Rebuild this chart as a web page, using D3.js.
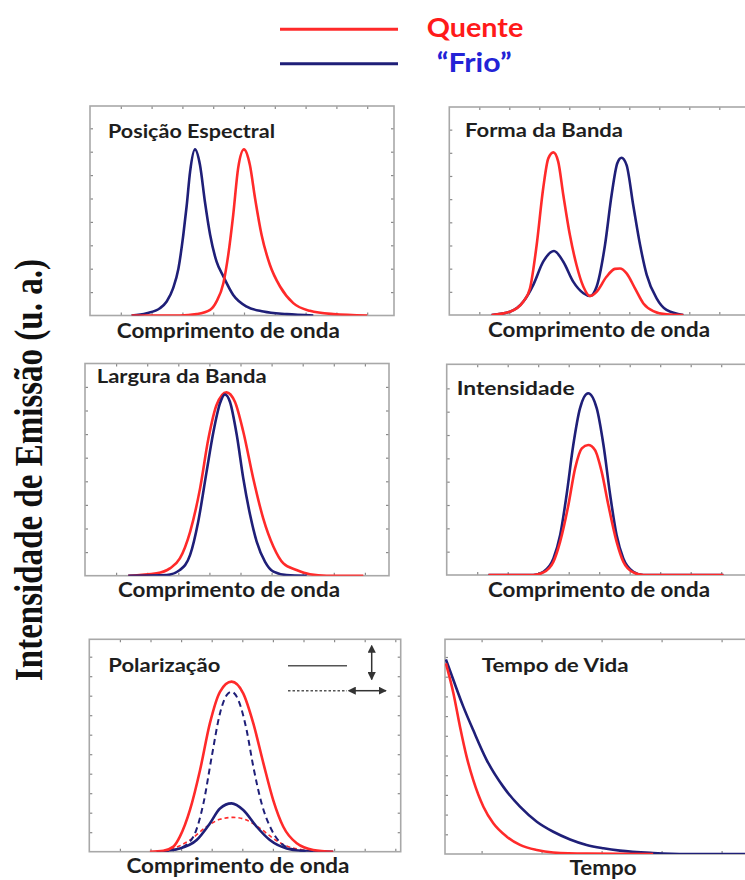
<!DOCTYPE html>
<html><head><meta charset="utf-8">
<script src="https://cdn.jsdelivr.net/npm/d3@7"></script>
<style>body{margin:0;background:#fff;} svg{display:block;}</style>
</head><body>
<svg id="c" width="745" height="880"></svg>
<script>
// ---------------- DATA (panel units) ----------------
const legendLabels = ["Quente", "\u201CFrio\u201D"];
const yAxisTitle = "Intensidade de Emissão (u. a.)";
const panelTitles = ["Posição Espectral", "Forma da Banda", "Largura da Banda", "Intensidade", "Polarização", "Tempo de Vida"];
const axisTitles = ["Comprimento de onda", "Comprimento de onda", "Comprimento de onda", "Comprimento de onda", "Comprimento de onda", "Tempo"];

// Posição Espectral
const posicaoFrio = [[1.35,0],[1.84,0.1],[2.27,0.31],[2.49,0.6],[2.7,1.17],[2.87,2.0],[3.03,3.45],[3.14,4.7],[3.25,6.15],[3.41,7.1],[3.57,6.44],[3.73,4.87],[3.9,3.45],[4.11,2.3],[4.33,1.67],[4.65,0.88],[5.09,0.38],[5.63,0.17],[6.39,0.06],[7.25,0]];
const posicaoQuente = [[1.35,0],[2.92,0],[3.46,0.06],[3.9,0.24],[4.11,0.6],[4.33,1.38],[4.49,2.6],[4.65,4.3],[4.81,6.3],[5.0,7.1],[5.19,6.44],[5.36,5.0],[5.57,3.45],[5.84,2.17],[6.17,1.24],[6.6,0.53],[7.14,0.2],[7.9,0.06],[9.0,0]];
// Forma da Banda
const formaQuente = [[1.41,0],[2.02,0.14],[2.47,0.58],[2.69,1.15],[2.91,3.0],[3.13,5.47],[3.3,6.76],[3.47,7.02],[3.63,6.62],[3.8,5.18],[4.02,3.45],[4.24,2.16],[4.47,1.22],[4.69,0.82],[4.91,1.0],[5.24,1.65],[5.52,1.99],[5.69,2.01],[5.91,1.8],[6.19,1.15],[6.47,0.5],[6.8,0.17],[7.24,0.03],[7.8,0]];
const formaFrio = [[1.41,0],[2.02,0.14],[2.47,0.58],[2.8,1.3],[3.13,2.3],[3.49,2.76],[3.8,2.3],[4.13,1.44],[4.47,0.94],[4.69,0.82],[4.91,1.22],[5.19,3.02],[5.41,5.18],[5.6,6.55],[5.74,6.79],[5.91,6.47],[6.13,4.75],[6.36,3.02],[6.58,1.73],[6.91,0.72],[7.24,0.22],[7.8,0]];
// Largura da Banda
const larguraQuente = [[1.39,0],[2.3,0.1],[2.73,0.31],[3.05,0.73],[3.38,1.86],[3.7,3.7],[3.97,5.82],[4.23,7.23],[4.55,7.77],[4.82,7.37],[5.09,6.1],[5.41,4.12],[5.73,2.43],[6.06,1.23],[6.38,0.52],[6.8,0.24],[7.23,0.06],[7.77,0],[8.95,0]];
const larguraFrio = [[1.39,0],[2.63,0.03],[3.05,0.24],[3.38,0.88],[3.64,2.29],[3.91,4.41],[4.13,6.1],[4.34,7.3],[4.5,7.68],[4.66,7.37],[4.88,5.96],[5.09,4.12],[5.31,2.57],[5.52,1.44],[5.79,0.59],[6.06,0.17],[6.48,0.03],[7.13,0]];
// Intensidade
const intensidadeFrio = [[1.37,0],[2.84,0],[3.17,0.14],[3.5,0.71],[3.72,1.71],[3.93,3.43],[4.15,5.57],[4.37,7.14],[4.64,7.79],[4.92,7.14],[5.14,5.57],[5.36,3.43],[5.57,1.71],[5.79,0.71],[6.12,0.14],[6.45,0],[9.07,0]];
const intensidadeQuente = [[1.37,0],[2.84,0],[3.17,0.11],[3.5,0.57],[3.72,1.43],[3.99,3.0],[4.21,4.57],[4.43,5.43],[4.64,5.57],[4.86,5.36],[5.08,4.43],[5.3,3.0],[5.57,1.43],[5.79,0.57],[6.12,0.11],[6.45,0],[9.07,0]];
// Polarização (solid = vertical, dashed = horizontal)
const polQuenteSolid = [[1.98,0],[2.42,0.05],[2.75,0.26],[2.96,0.77],[3.29,2.14],[3.62,4.19],[3.94,6.58],[4.27,8.2],[4.65,8.72],[5.03,8.12],[5.36,6.58],[5.69,4.53],[6.01,2.65],[6.34,1.28],[6.78,0.43],[7.32,0.09],[7.97,0]];
const polFrioDashed = [[2.4,0],[2.96,0.17],[3.4,0.77],[3.73,2.48],[4.0,4.87],[4.27,7.09],[4.49,8.03],[4.65,8.2],[4.87,7.78],[5.14,6.24],[5.36,4.36],[5.63,2.48],[5.96,1.11],[6.34,0.34],[6.78,0.09],[7.32,0]];
const polFrioSolid = [[2.2,0],[2.96,0.17],[3.51,0.6],[3.94,1.45],[4.27,2.22],[4.65,2.48],[5.03,2.14],[5.47,1.28],[5.9,0.6],[6.45,0.17],[7.1,0.03],[7.97,0]];
const polQuenteDashed = [[2.2,0],[2.75,0.17],[3.29,0.6],[3.83,1.28],[4.27,1.66],[4.71,1.76],[5.14,1.62],[5.58,1.2],[6.01,0.68],[6.45,0.29],[6.99,0.09],[7.54,0]];
// Tempo de Vida
const vidaFrio = [[0.03,9.88],[0.28,8.83],[0.61,7.48],[0.94,6.29],[1.39,4.77],[1.94,3.42],[2.5,2.4],[3.06,1.64],[3.61,1.13],[4.17,0.74],[4.72,0.46],[5.28,0.29],[5.83,0.17],[6.94,0.05],[8.06,0],[10.0,0]];
const vidaQuente = [[0.03,9.68],[0.28,8.16],[0.5,6.46],[0.72,4.94],[0.94,3.76],[1.28,2.4],[1.61,1.56],[2.06,0.88],[2.5,0.46],[3.06,0.2],[3.61,0.08],[4.72,0.02],[6.94,0]];

// ---------------- LAYOUT ----------------
const RED = "#ff2a2a", BLUE = "#1f1f78";
const panels = [
  {frame:[90,394,106,315.5], xu:30.8, yu:23.4, xt:[1,1], title:[108,137.7,167], label:[228.3,337.7,223],
   series:[{d:posicaoFrio,c:BLUE},{d:posicaoQuente,c:RED}]},
  {frame:[449.3,748,107,315], xu:30, yu:23.17, xt:[1,1], title:[465,136.7,158], label:[599,336.7,222],
   series:[{d:formaFrio,c:BLUE},{d:formaQuente,c:RED}]},
  {frame:[85,389,363.5,575.7], xu:31.1, yu:23.6, xt:[1,1], title:[96.7,383.3,170], label:[229,596.7,222],
   series:[{d:larguraQuente,c:RED},{d:larguraFrio,c:BLUE}]},
  {frame:[446.7,748,364.3,575], xu:30.5, yu:23.33, xt:[1,1], title:[456.7,395,118], label:[599,596.7,222],
   series:[{d:intensidadeFrio,c:BLUE},{d:intensidadeQuente,c:RED}]},
  {frame:[89.3,400.7,639.3,851.7], xu:30.6, yu:19.5, xt:[1,1], title:[108.3,671.7,112], label:[238,873,223],
   series:[{d:polQuenteDashed,c:RED,dash:"4,3",w:1.6},{d:polFrioDashed,c:BLUE,dash:"6,4",w:2},{d:polFrioSolid,c:BLUE},{d:polQuenteSolid,c:RED}]},
  {frame:[445,748,639.3,854], xu:30, yu:19.7, xt:[1.22,2], title:[481.7,671.7,147], label:[603,875,67],
   series:[{d:vidaFrio,c:BLUE},{d:vidaQuente,c:RED}]}
];

const svg = d3.select("#c");
const defs = svg.append("defs");
["s","e"].forEach(k=>{
  defs.append("marker").attr("id","arr"+k).attr("viewBox","0 0 10 10").attr("refX",k==="e"?9:1).attr("refY",5)
    .attr("markerWidth",5.5).attr("markerHeight",5.5).attr("orient","auto-start-reverse")
    .append("path").attr("d","M0,0L10,5L0,10z").attr("fill","#333");
});

// Global y-axis title
svg.append("text").attr("transform","translate(42,470) rotate(-90)")
  .attr("text-anchor","middle").attr("font-family","'Liberation Serif','Times New Roman',serif")
  .attr("font-weight","bold").attr("font-size",40).attr("fill","#111")
  .attr("textLength",422).attr("lengthAdjust","spacingAndGlyphs").text(yAxisTitle);

// Legend
const legY = [29.3, 63.7];
const legColors = [RED, BLUE];
const legTextColors = ["#ff1a1a", "#2323d6"];
const legTextX = [426.7, 436.7], legTextW = [96.6, 75], legBase = [37, 72];
legendLabels.forEach((t,i)=>{
  svg.append("line").attr("x1",280).attr("x2",398).attr("y1",legY[i]).attr("y2",legY[i])
    .attr("stroke",legColors[i]).attr("stroke-width",3);
  svg.append("text").attr("x",legTextX[i]).attr("y",legBase[i]).attr("font-family","Lato, 'Open Sans', sans-serif")
    .attr("font-weight","bold").attr("font-size",26).attr("fill",legTextColors[i])
    .attr("textLength",legTextW[i]).attr("lengthAdjust","spacingAndGlyphs").text(t);
});

panels.forEach((p,i)=>{
  const [x0,x1,y0,y1] = p.frame;
  const x = d3.scaleLinear().domain([0,(x1-x0)/p.xu]).range([x0,x1]);
  const y = d3.scaleLinear().domain([0,(y1-y0)/p.yu]).range([y1,y0]);
  const g = svg.append("g");
  const xt = d3.range(p.xt[0], x.domain()[1]-0.05, p.xt[1]);
  const yt = d3.range(1, y.domain()[1]-0.05, 1);
  const tick = sel => { sel.select(".domain").remove(); sel.selectAll(".tick line").attr("stroke","#8a8a8a").attr("stroke-width",1.2); };
  g.append("g").attr("transform",`translate(0,${y0})`).call(d3.axisTop(x).tickValues(xt).tickSize(-3).tickFormat("")).call(tick);
  g.append("g").attr("transform",`translate(0,${y1})`).call(d3.axisBottom(x).tickValues(xt).tickSize(-3).tickFormat("")).call(tick);
  g.append("g").attr("transform",`translate(${x0},0)`).call(d3.axisLeft(y).tickValues(yt).tickSize(-3).tickFormat("")).call(tick);
  g.append("g").attr("transform",`translate(${x1},0)`).call(d3.axisRight(y).tickValues(yt).tickSize(-3).tickFormat("")).call(tick);
  g.append("rect").attr("x",x0).attr("y",y0).attr("width",x1-x0).attr("height",y1-y0)
    .attr("fill","none").attr("stroke","#a8a8a8").attr("stroke-width",1.6);

  defs.append("clipPath").attr("id","clip"+i).append("rect").attr("x",x0).attr("y",y0-3).attr("width",x1-x0).attr("height",y1-y0+3);
  const line = d3.line().x(d=>x(d[0])).y(d=>y(d[1])).curve(d3.curveMonotoneX);
  const lg = g.append("g").attr("clip-path",`url(#clip${i})`);
  p.series.forEach(s=>{
    lg.append("path").attr("d",line(s.d)).attr("fill","none").attr("stroke",s.c)
      .attr("stroke-width",s.w||2.6).attr("stroke-dasharray",s.dash||null).attr("stroke-linejoin","round");
  });

  g.append("text").attr("x",p.title[0]).attr("y",p.title[1]).attr("font-family","Lato, 'Open Sans', sans-serif")
    .attr("font-weight","bold").attr("font-size",19).attr("fill","#1e1e1e")
    .attr("textLength",p.title[2]).attr("lengthAdjust","spacingAndGlyphs").text(panelTitles[i]);
  g.append("text").attr("x",p.label[0]).attr("y",p.label[1]).attr("text-anchor","middle")
    .attr("font-family","Lato, 'Open Sans', sans-serif").attr("font-weight","bold").attr("font-size",20).attr("fill","#1e1e1e")
    .attr("textLength",p.label[2]).attr("lengthAdjust","spacingAndGlyphs").text(axisTitles[i]);

  if (i === 4) {
    // inset polarisation key
    g.append("line").attr("x1",288).attr("x2",347).attr("y1",665.7).attr("y2",665.7).attr("stroke","#555").attr("stroke-width",1.5);
    g.append("line").attr("x1",288).attr("x2",347).attr("y1",690.7).attr("y2",690.7).attr("stroke","#555").attr("stroke-width",1.5).attr("stroke-dasharray","2.5,2");
    g.append("line").attr("x1",371.7).attr("x2",371.7).attr("y1",652).attr("y2",679.5).attr("stroke","#333").attr("stroke-width",1.5)
      .attr("marker-start","url(#arrs)").attr("marker-end","url(#arre)");
    g.append("line").attr("x1",355).attr("x2",386).attr("y1",690.7).attr("y2",690.7).attr("stroke","#333").attr("stroke-width",1.5)
      .attr("marker-start","url(#arrs)").attr("marker-end","url(#arre)");
  }
});
</script></body></html>
